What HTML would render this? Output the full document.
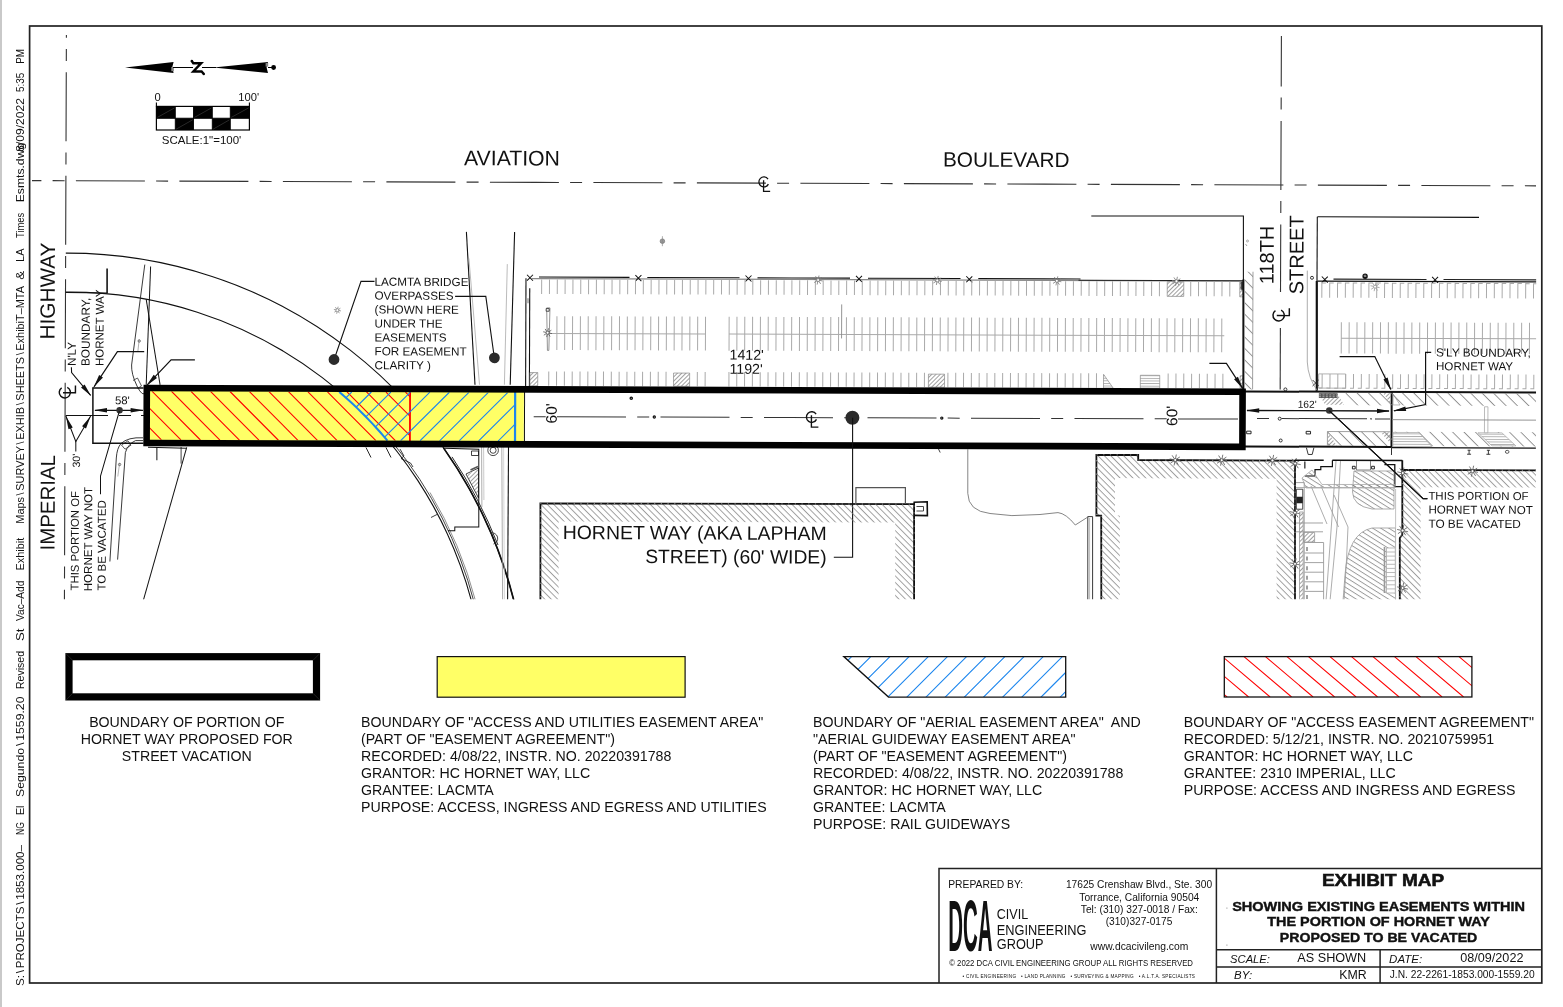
<!DOCTYPE html>
<html><head><meta charset="utf-8"><title>Exhibit Map</title>
<style>html,body{margin:0;padding:0;background:#fff}svg{display:block}text{font-family:"Liberation Sans",sans-serif;fill:#111}</style>
</head><body>
<svg width="1563" height="1007" viewBox="0 0 1563 1007">
<defs>

<clipPath id="mapclip"><rect x="30.5" y="27" width="1505.8" height="572.3"/></clipPath>
<pattern id="hb" width="4.57" height="4.57" patternUnits="userSpaceOnUse" patternTransform="rotate(45)"><line x1="0" y1="0.5" x2="4.57" y2="0.5" stroke="#7a7a7a" stroke-width="0.7"/></pattern>
<pattern id="hf" width="3" height="3" patternUnits="userSpaceOnUse" patternTransform="rotate(-45)"><line x1="0" y1="0.5" x2="3" y2="0.5" stroke="#777" stroke-width="0.7"/></pattern>
<pattern id="hw" width="8.06" height="8.06" patternUnits="userSpaceOnUse" patternTransform="rotate(45)"><line x1="0" y1="0.5" x2="8.06" y2="0.5" stroke="#7c7c7c" stroke-width="0.8"/></pattern>
<pattern id="hc" width="4.3" height="4.3" patternUnits="userSpaceOnUse" patternTransform="rotate(32)"><line x1="0" y1="0.5" x2="4.3" y2="0.5" stroke="#777" stroke-width="0.7"/></pattern>
<pattern id="hh" width="3" height="2.6" patternUnits="userSpaceOnUse"><line x1="0" y1="0.5" x2="3" y2="0.5" stroke="#888" stroke-width="0.7"/></pattern>

</defs>
<rect width="1563" height="1007" fill="#fff"/>
<rect x="0" y="0" width="2" height="1007" fill="#c9c9c9"/>
<g opacity="0.999"><g clip-path="url(#mapclip)"><g transform="rotate(0.2 146 416)">
<line x1="31.18" y1="181" x2="1535.19" y2="181" stroke="#333" stroke-width="1.1" stroke-dasharray="69 11.2 12 11.3" stroke-dashoffset="59.6"/>
<line x1="65.07" y1="35.28" x2="65.07" y2="600.28" stroke="#333" stroke-width="1.1" stroke-dasharray="69 11.2 12 11.3" stroke-dashoffset="66.2"/>
<line x1="1280.07" y1="32.04" x2="1280.07" y2="288.04" stroke="#333" stroke-width="1.1" stroke-dasharray="69 11.2 12 11.3" stroke-dashoffset="18.6"/>
<line x1="1280.07" y1="324.04" x2="1280.07" y2="385.54" stroke="#333" stroke-width="1.1"/>
<path d="M65.23,253.38A460.7,460.7 0 0 1 514.88,600.71" fill="none" stroke="#111" stroke-width="1.1"/>
<path d="M65.37,292.4A415.6,415.6 0 0 1 472.38,600.86" fill="none" stroke="#111" stroke-width="1.1"/>
<path d="M393.09,442.08A417.8,417.8 0 0 1 474.66,600.85" fill="none" stroke="#111" stroke-width="0.8"/>
<path d="M430.27,491.49A419.6,419.6 0 0 1 476.52,600.85" fill="none" stroke="#444" stroke-width="0.6"/>
<path d="M452.14,455.82A462.6,462.6 0 0 1 498.45,543.77" fill="none" stroke="#111" stroke-width="0.9"/>
<path d="M443.61,446.83A460.7,460.7 0 0 1 514.88,600.71" fill="none" stroke="#111" stroke-width="1.7"/>
<path d="M465.76,230.78L474.89,383.55" fill="none" stroke="#111" stroke-width="1.1" />
<path d="M513.96,230.61L510.09,383.43" fill="none" stroke="#111" stroke-width="1.1" />
<path d="M468.35,257.27L479.39,383.54" fill="none" stroke="#aaa" stroke-width="0.8" />
<path d="M506.77,262.84L504.29,383.45" fill="none" stroke="#aaa" stroke-width="0.8" />
<path d="M481.71,445.83L482.22,505.83" fill="none" stroke="#999" stroke-width="0.8" />
<path d="M483.71,445.82L484.19,498.82" fill="none" stroke="#bbb" stroke-width="0.8" />
<path d="M501.91,445.76L503.24,599.75" fill="none" stroke="#999" stroke-width="0.8" />
<path d="M503.71,445.75L505.04,599.75" fill="none" stroke="#ccc" stroke-width="0.8" />
<path d="M508.61,445.73L508.24,599.74" fill="none" stroke="#111" stroke-width="1.1" />
<path d="M444.61,447.16L478.91,448.04L479.19,525.84L455.19,525.92L455.2,529.72L448.4,529.75" fill="none" stroke="#111" stroke-width="1" />
<path d="M471.62,449.86L478.62,449.84L478.64,454.34L471.64,454.36Z" fill="none" stroke="#111" stroke-width="0.8" />
<path d="M466.2,472.88L478.68,466.84L478.78,496.84L466.2,472.88" fill="none" stroke="#111" stroke-width="0.8" />
<path d="M467.2,473.38L478.18,467.84L478.28,494.84Z" fill="url(#hf)"/>
<path d="M470.69,468.87L478.17,465.34" fill="none" stroke="#555" stroke-width="1.6" />
<circle cx="493.22" cy="449.09" r="5.3" fill="#fff" stroke="#333" stroke-width="0.9"/><circle cx="493.22" cy="449.09" r="3" fill="none" stroke="#333" stroke-width="0.9"/>
<path d="M490.93,531.79A5.5,5.5 0 0 1 493.93,542.79" fill="none" stroke="#333" stroke-width="0.9"/>
<path d="M366.11,446.73L371.14,456.71" fill="none" stroke="#111" stroke-width="0.9" />
<path d="M386.11,446.66L391.14,456.64" fill="none" stroke="#111" stroke-width="0.9" />
<path d="M400.11,448.11L404.14,455.1L401.15,457.61L410.66,462.08L413.18,466.07" fill="none" stroke="#111" stroke-width="0.8" />
<path d="M431.35,516.5L437.34,513.48" fill="none" stroke="#111" stroke-width="0.8" />
<path d="M106.59,268.64L106.67,293.54" fill="none" stroke="#111" stroke-width="1.6" />
<path d="M65.37,292.68L106.67,293.04" fill="none" stroke="#111" stroke-width="1" />
<path d="M150.08,266.58L146.09,384.8" fill="none" stroke="#111" stroke-width="1" />
<path d="M145.79,299.3L159.99,384.75" fill="none" stroke="#111" stroke-width="1" />
<path d="M144.27,264.61L131.42,365.05Q131.05,374.05 136.9,386.03T145.92,392" fill="none" stroke="#222" stroke-width="0.9"/>
<path d="M132.88,380.55L137.37,378.03L141.4,386.02L137.4,388.53" fill="none" stroke="#333" stroke-width="0.8" />
<path d="M138.93,339.52L137.58,352.03" fill="none" stroke="#888" stroke-width="0.7" />
<circle cx="138.94" cy="341.02" r="1.2" fill="none" stroke="#444" stroke-width="0.7"/>
<path d="M143.08,437.81Q128.07,437.06 121.1,443.59Q117.11,448.1 116.45,458.1L110.41,561.63" fill="none" stroke="#222" stroke-width="0.9"/>
<path d="M143.09,440.61L135.59,440.64Q128.1,444.06 125.53,452.57L118.1,559.7" fill="none" stroke="#222" stroke-width="0.9"/>
<path d="M121.6,445.09L128.09,440.86L131.1,445.25L125.12,449.27Z" fill="none" stroke="#333" stroke-width="0.8" />
<path d="M119.76,463.09L118.01,476.6" fill="none" stroke="#999" stroke-width="0.7" />
<circle cx="119.77" cy="464.59" r="1.2" fill="none" stroke="#444" stroke-width="0.7"/>
<path d="M186.81,447.16L143.94,600.51" fill="none" stroke="#111" stroke-width="1" />
<path d="M157.01,447.26L157.05,460.26" fill="none" stroke="#111" stroke-width="1" />
<path d="M181.21,446.88L181.27,463.48" fill="none" stroke="#111" stroke-width="0.8" />
<path d="M148.11,447.29L186.61,448.06" fill="none" stroke="#111" stroke-width="1" />
<line x1="525.5" y1="277" x2="525.5" y2="385" stroke="#111" stroke-width="1.1" />
<line x1="529.3" y1="287" x2="529.3" y2="385" stroke="#111" stroke-width="1.1" />
<line x1="527.6" y1="297" x2="527.6" y2="302" stroke="#999" stroke-width="1.4" />
<line x1="538.5" y1="275.7" x2="629" y2="275.7" stroke="#111" stroke-width="1.1" />
<line x1="646.8" y1="275.7" x2="739" y2="275.7" stroke="#111" stroke-width="1.1" />
<line x1="757" y1="275.7" x2="849.5" y2="275.7" stroke="#111" stroke-width="1.1" />
<line x1="867.5" y1="275.7" x2="960" y2="275.7" stroke="#111" stroke-width="1.1" />
<line x1="977.8" y1="275.7" x2="1080" y2="275.7" stroke="#111" stroke-width="1.1" />
<line x1="531" y1="277.2" x2="1243" y2="277.2" stroke="#888" stroke-width="1.3" />
<line x1="1078" y1="276.9" x2="1243" y2="276.9" stroke="#222" stroke-width="1.0" />
<path d="M526.5,273.4L532.5,279.4M532.5,273.4L526.5,279.4" stroke="#111" stroke-width="1" fill="none"/>
<path d="M634.9,273.4L640.9,279.4M640.9,273.4L634.9,279.4" stroke="#111" stroke-width="1" fill="none"/>
<path d="M745,273.4L751,279.4M751,273.4L745,279.4" stroke="#111" stroke-width="1" fill="none"/>
<path d="M855.5,273.4L861.5,279.4M861.5,273.4L855.5,279.4" stroke="#111" stroke-width="1" fill="none"/>
<path d="M965.8,273.4L971.8,279.4M971.8,273.4L965.8,279.4" stroke="#111" stroke-width="1" fill="none"/>
<path d="M541.2,278V292.6M549.02,278V292.6M556.84,278V292.6M564.66,278V292.6M572.48,278V292.6M580.3,278V292.6M588.12,278V292.6M595.94,278V292.6M603.76,278V292.6M611.58,278V292.6M619.4,278V292.6M627.22,278V292.6M635.04,278V292.6M642.86,278V292.6M650.68,278V292.6M658.5,278V292.6M666.32,278V292.6M674.14,278V292.6M681.96,278V292.6M689.78,278V292.6M697.6,278V292.6M705.42,278V292.6M713.24,278V292.6M721.06,278V292.6M728.88,278V292.6M736.7,278V292.6M744.52,278V292.6M752.34,278V292.6M760.16,278V292.6M767.98,278V292.6M775.8,278V292.6M783.62,278V292.6M791.44,278V292.6M799.26,278V292.6M807.08,278V292.6M814.9,278V292.6M822.72,278V292.6M830.54,278V292.6M838.36,278V292.6M846.18,278V292.6M854,278V292.6M861.82,278V292.6M869.64,278V292.6M877.46,278V292.6M885.28,278V292.6M893.1,278V292.6M900.92,278V292.6M908.74,278V292.6M916.56,278V292.6M924.38,278V292.6M932.2,278V292.6M940.02,278V292.6M947.84,278V292.6M955.66,278V292.6M963.48,278V292.6M971.3,278V292.6M979.12,278V292.6M986.94,278V292.6M994.76,278V292.6M1002.58,278V292.6M1010.4,278V292.6M1018.22,278V292.6M1026.04,278V292.6M1033.86,278V292.6M1041.68,278V292.6M1049.5,278V292.6M1057.32,278V292.6M1065.14,278V292.6M1072.96,278V292.6M1080.78,278V292.6M1088.6,278V292.6M1096.42,278V292.6M1104.24,278V292.6M1112.06,278V292.6M1119.88,278V292.6M1127.7,278V292.6M1135.52,278V292.6M1143.34,278V292.6M1151.16,278V292.6M1158.98,278V292.6M1190.26,278V292.6M1198.08,278V292.6M1205.9,278V292.6M1213.72,278V292.6M1221.54,278V292.6M1229.36,278V292.6" fill="none" stroke="#a9a9a9" stroke-width="1.0"/>
<path d="M556.6,314.7V348.6M564.42,314.7V348.6M572.24,314.7V348.6M580.06,314.7V348.6M587.88,314.7V348.6M595.7,314.7V348.6M603.52,314.7V348.6M611.34,314.7V348.6M619.16,314.7V348.6M626.98,314.7V348.6M634.8,314.7V348.6M642.62,314.7V348.6M650.44,314.7V348.6M658.26,314.7V348.6M666.08,314.7V348.6M673.9,314.7V348.6M681.72,314.7V348.6M689.54,314.7V348.6M697.36,314.7V348.6M705.18,314.7V348.6" fill="none" stroke="#a9a9a9" stroke-width="1.0"/>
<path d="M728.8,314.7V348.6M736.62,314.7V348.6M744.44,314.7V348.6M752.26,314.7V348.6M760.08,314.7V348.6M767.9,314.7V348.6M775.72,314.7V348.6M783.54,314.7V348.6M791.36,314.7V348.6M799.18,314.7V348.6M807,314.7V348.6M814.82,314.7V348.6M822.64,314.7V348.6M830.46,314.7V348.6M838.28,314.7V348.6M846.1,314.7V348.6M853.92,314.7V348.6M861.74,314.7V348.6M869.56,314.7V348.6M877.38,314.7V348.6M885.2,314.7V348.6M893.02,314.7V348.6M900.84,314.7V348.6M908.66,314.7V348.6M916.48,314.7V348.6M924.3,314.7V348.6M932.12,314.7V348.6M939.94,314.7V348.6M947.76,314.7V348.6M955.58,314.7V348.6M963.4,314.7V348.6M971.22,314.7V348.6M979.04,314.7V348.6M986.86,314.7V348.6M994.68,314.7V348.6M1002.5,314.7V348.6M1010.32,314.7V348.6M1018.14,314.7V348.6M1025.96,314.7V348.6M1033.78,314.7V348.6M1041.6,314.7V348.6M1049.42,314.7V348.6M1057.24,314.7V348.6M1065.06,314.7V348.6M1072.88,314.7V348.6M1080.7,314.7V348.6M1088.52,314.7V348.6M1096.34,314.7V348.6M1104.16,314.7V348.6M1111.98,314.7V348.6M1119.8,314.7V348.6M1127.62,314.7V348.6M1135.44,314.7V348.6M1143.26,314.7V348.6M1151.08,314.7V348.6M1158.9,314.7V348.6M1166.72,314.7V348.6M1174.54,314.7V348.6M1182.36,314.7V348.6M1190.18,314.7V348.6M1198,314.7V348.6M1205.82,314.7V348.6M1213.64,314.7V348.6M1221.46,314.7V348.6" fill="none" stroke="#a9a9a9" stroke-width="1.0"/>
<line x1="549" y1="332" x2="705.5" y2="332" stroke="#a9a9a9" stroke-width="1.0" />
<line x1="728.8" y1="332" x2="1224" y2="332" stroke="#a9a9a9" stroke-width="1.0" />
<path d="M548.6,370V384.4M556.42,370V384.4M564.24,370V384.4M572.06,370V384.4M579.88,370V384.4M587.7,370V384.4M595.52,370V384.4M603.34,370V384.4M611.16,370V384.4M618.98,370V384.4M626.8,370V384.4M634.62,370V384.4M642.44,370V384.4M650.26,370V384.4M658.08,370V384.4M665.9,370V384.4M697.18,370V384.4M705,370V384.4" fill="none" stroke="#a9a9a9" stroke-width="1.0"/>
<path d="M728.8,370V384.4M736.62,370V384.4M744.44,370V384.4M752.26,370V384.4M760.08,370V384.4M767.9,370V384.4M775.72,370V384.4M783.54,370V384.4M791.36,370V384.4M799.18,370V384.4M807,370V384.4M814.82,370V384.4M822.64,370V384.4M830.46,370V384.4M838.28,370V384.4M846.1,370V384.4M853.92,370V384.4M861.74,370V384.4M869.56,370V384.4M877.38,370V384.4M885.2,370V384.4M893.02,370V384.4M900.84,370V384.4M908.66,370V384.4M916.48,370V384.4M924.3,370V384.4M947.76,370V384.4M955.58,370V384.4M963.4,370V384.4M971.22,370V384.4M979.04,370V384.4M986.86,370V384.4M994.68,370V384.4M1002.5,370V384.4M1010.32,370V384.4M1018.14,370V384.4M1025.96,370V384.4M1033.78,370V384.4M1041.6,370V384.4M1049.42,370V384.4M1057.24,370V384.4M1065.06,370V384.4M1072.88,370V384.4M1080.7,370V384.4M1088.52,370V384.4M1096.34,370V384.4" fill="none" stroke="#a9a9a9" stroke-width="1.0"/>
<path d="M1168,370V384.4M1175.82,370V384.4M1183.64,370V384.4M1191.46,370V384.4M1199.28,370V384.4M1207.1,370V384.4M1214.92,370V384.4M1222.74,370V384.4" fill="none" stroke="#a9a9a9" stroke-width="1.0"/>
<line x1="841.3" y1="302" x2="841.3" y2="336" stroke="#888" stroke-width="0.9" />
<rect x="529.8" y="371.2" width="7.8" height="13.2" fill="url(#hf)" stroke="#888" stroke-width="0.7"/>
<rect x="673.4" y="371.2" width="16.1" height="13.2" fill="url(#hf)" stroke="#888" stroke-width="0.7"/>
<rect x="928.3" y="371.4" width="16.1" height="13" fill="url(#hf)" stroke="#888" stroke-width="0.7"/>
<rect x="1166.8" y="278" width="16.5" height="14.8" fill="url(#hf)" stroke="#888" stroke-width="0.7"/>
<rect x="1140.2" y="371.8" width="19.4" height="12.8" fill="url(#hh)" stroke="#888" stroke-width="0.7"/>
<path d="M1103.4,371 L1103.4,384.6 L1113,384.6Z" fill="url(#hh)" stroke="#888" stroke-width="0.7"/>
<rect x="1239.3" y="278" width="3.7" height="15" fill="url(#hf)" stroke="#888" stroke-width="0.7"/>
<rect x="1240.2" y="278" width="2.6" height="8" fill="#444"/>
<rect x="1240" y="372" width="3" height="12.5" fill="url(#hf)" stroke="#888" stroke-width="0.7"/>
<path d="M546.3,306.5 L549.6,306.5 L548.6,349 L547.2,349 Z" fill="#fff" stroke="#666" stroke-width="0.7"/><rect x="545.8" y="307.2" width="3" height="2.6" fill="#fff" stroke="#222" stroke-width="0.8"/>
<path d="M542.89,330.41L551.71,332.19M544.81,327.55L549.79,335.05M548.19,326.89L546.41,335.71M551.05,328.81L543.55,333.79" stroke="#555" stroke-width="0.8" fill="none"/><circle cx="547.3" cy="331.3" r="1.5" fill="#fff" stroke="#555" stroke-width="0.8"/>
<path d="M813.09,276.79L822.11,278.61M815.06,273.87L820.14,281.53M818.51,273.19L816.69,282.21M821.43,275.16L813.77,280.24" stroke="#777" stroke-width="0.8" fill="none"/><circle cx="817.6" cy="277.7" r="1.5" fill="#fff" stroke="#777" stroke-width="0.8"/>
<path d="M932.29,276.79L941.31,278.61M934.26,273.87L939.34,281.53M937.71,273.19L935.89,282.21M940.63,275.16L932.97,280.24" stroke="#777" stroke-width="0.8" fill="none"/><circle cx="936.8" cy="277.7" r="1.5" fill="#fff" stroke="#777" stroke-width="0.8"/>
<path d="M1051.89,276.79L1060.91,278.61M1053.86,273.87L1058.94,281.53M1057.31,273.19L1055.49,282.21M1060.23,275.16L1052.57,280.24" stroke="#777" stroke-width="0.8" fill="none"/><circle cx="1056.4" cy="277.7" r="1.5" fill="#fff" stroke="#777" stroke-width="0.8"/>
<path d="M1171.49,276.79L1180.51,278.61M1173.46,273.87L1178.54,281.53M1176.91,273.19L1175.09,282.21M1179.83,275.16L1172.17,280.24" stroke="#777" stroke-width="0.8" fill="none"/><circle cx="1176" cy="277.7" r="1.5" fill="#fff" stroke="#777" stroke-width="0.8"/>
<path d="M333.5,308.82L340.56,310.25M335.04,306.53L339.02,312.53M337.74,306L336.31,313.06M340.03,307.54L334.03,311.52" stroke="#888" stroke-width="0.8" fill="none"/><circle cx="337.03" cy="309.53" r="1.5" fill="#fff" stroke="#888" stroke-width="0.8"/>
<circle cx="661.79" cy="239.4" r="2.3" fill="#999" stroke="#666" stroke-width="0.6"/><line x1="661.79" y1="234.4" x2="661.79" y2="244.4" stroke="#888" stroke-width="0.7"/>
<path d="M1090.6,212.7L1242.7,212.17L1242.92,276.17" fill="none" stroke="#111" stroke-width="1.1" />
<path d="M1242.92,275.67L1243.3,386.57" fill="none" stroke="#111" stroke-width="2" />
<path d="M1316.8,212.71L1478.3,212.75" fill="none" stroke="#111" stroke-width="1.1" />
<path d="M1316.6,212.71L1316.52,276.91" fill="none" stroke="#111" stroke-width="1.1" />
<path d="M1316.32,276.91L1316.71,387.51" fill="none" stroke="#111" stroke-width="2.2" />
<rect x="1244.29" y="267.87" width="8.2" height="117.67" fill="url(#hw)"/>
<line x1="1252.49" y1="267.87" x2="1252.49" y2="385.54" stroke="#888" stroke-width="0.8" />
<path d="M1306.79,266.55L1307.1,357.95Q1307.86,373.94 1317.41,386.91" fill="none" stroke="#999" stroke-width="0.8"/>
<circle cx="1311.51" cy="273.73" r="1.5" fill="#fff" stroke="#222" stroke-width="0.9"/>
<circle cx="1285.3" cy="385.42" r="1.5" fill="#fff" stroke="#222" stroke-width="0.9"/>
<circle cx="1279.7" cy="414.74" r="1.5" fill="#fff" stroke="#222" stroke-width="0.9"/>
<circle cx="1280.78" cy="436.54" r="1.5" fill="#fff" stroke="#222" stroke-width="0.9"/>
<circle cx="1246.88" cy="237.16" r="1" fill="none" stroke="#777" stroke-width="0.6"/>
<path d="M1244.89,240.16L1246.4,242.16" fill="none" stroke="#777" stroke-width="0.7" />
<line x1="1317" y1="277" x2="1536" y2="277" stroke="#111" stroke-width="1.4" />
<line x1="1333" y1="275" x2="1426" y2="275" stroke="#222" stroke-width="1.1" />
<line x1="1443" y1="275" x2="1536" y2="275" stroke="#222" stroke-width="1.1" />
<path d="M1321.3,272.4L1327.3,278.4M1327.3,272.4L1321.3,278.4" stroke="#111" stroke-width="1" fill="none"/>
<path d="M1431.6,272.4L1437.6,278.4M1437.6,272.4L1431.6,278.4" stroke="#111" stroke-width="1" fill="none"/>
<path d="M1325.4,278.8H1321.4V293.6M1333.24,278.8H1329.24V293.6M1341.08,278.8H1337.08V293.6M1348.92,278.8H1344.92V293.6M1356.76,278.8H1352.76V293.6M1364.6,278.8H1360.6V293.6M1372.44,278.8H1368.44V293.6M1380.28,278.8H1376.28V293.6M1388.12,278.8H1384.12V293.6M1395.96,278.8H1391.96V293.6M1403.8,278.8H1399.8V293.6M1411.64,278.8H1407.64V293.6M1419.48,278.8H1415.48V293.6M1427.32,278.8H1423.32V293.6M1435.16,278.8H1431.16V293.6M1443,278.8H1439V293.6M1450.84,278.8H1446.84V293.6M1458.68,278.8H1454.68V293.6M1466.52,278.8H1462.52V293.6M1474.36,278.8H1470.36V293.6M1482.2,278.8H1478.2V293.6M1490.04,278.8H1486.04V293.6M1497.88,278.8H1493.88V293.6M1505.72,278.8H1501.72V293.6M1513.56,278.8H1509.56V293.6M1521.4,278.8H1517.4V293.6M1529.24,278.8H1525.24V293.6M1537.08,278.8H1533.08V293.6" fill="none" stroke="#a9a9a9" stroke-width="1"/>
<path d="M1341,318V349.3M1348.84,318V349.3M1356.68,318V349.3M1364.52,318V349.3M1372.36,318V349.3M1380.2,318V349.3M1388.04,318V349.3M1395.88,318V349.3M1403.72,318V349.3M1411.56,318V349.3M1419.4,318V349.3M1427.24,318V349.3M1435.08,318V349.3M1442.92,318V349.3M1450.76,318V349.3M1458.6,318V349.3M1466.44,318V349.3M1474.28,318V349.3M1482.12,318V349.3M1489.96,318V349.3M1497.8,318V349.3M1505.64,318V349.3M1513.48,318V349.3M1521.32,318V349.3M1529.16,318V349.3" fill="none" stroke="#a9a9a9" stroke-width="1.0"/>
<line x1="1341" y1="334" x2="1536" y2="334" stroke="#a9a9a9" stroke-width="1.0" />
<path d="M1322,369.8V384H1318.5M1329.84,369.8V384H1326.34M1337.68,369.8V384H1334.18M1345.52,369.8V384H1342.02M1353.36,369.8V384H1349.86M1361.2,369.8V384H1357.7M1369.04,369.8V384H1365.54M1376.88,369.8V384H1373.38M1384.72,369.8V384H1381.22M1392.56,369.8V384H1389.06M1400.4,369.8V384H1396.9M1408.24,369.8V384H1404.74M1416.08,369.8V384H1412.58M1423.92,369.8V384H1420.42M1431.76,369.8V384H1428.26M1439.6,369.8V384H1436.1M1447.44,369.8V384H1443.94M1455.28,369.8V384H1451.78M1463.12,369.8V384H1459.62M1470.96,369.8V384H1467.46M1478.8,369.8V384H1475.3M1486.64,369.8V384H1483.14M1494.48,369.8V384H1490.98M1502.32,369.8V384H1498.82M1510.16,369.8V384H1506.66M1518,369.8V384H1514.5M1525.84,369.8V384H1522.34M1533.68,369.8V384H1530.18" fill="none" stroke="#a9a9a9" stroke-width="1"/>
<rect x="1318.5" y="369.8" width="27" height="14.2" fill="none" stroke="#a9a9a9" stroke-width="0.9"/>
<path d="M1370.09,281.49L1379.11,283.31M1372.06,278.57L1377.14,286.23M1375.51,277.89L1373.69,286.91M1378.43,279.86L1370.77,284.94" stroke="#999" stroke-width="0.8" fill="none"/><circle cx="1374.6" cy="282.4" r="1.5" fill="#fff" stroke="#999" stroke-width="0.8"/>
<circle cx="1364.6" cy="271.95" r="2.7" fill="#111"/><path d="M1363.4,272.15h2.2a1.1,1.1 0 0 0 -2.2,-0.4" stroke="#ddd" stroke-width="0.6" fill="none"/>
<path d="M1312.48,375.92l6,6m0,-6l-6,6" stroke="#222" stroke-width="0.9" fill="none"/>
<line x1="1245" y1="387.6" x2="1536" y2="387.6" stroke="#111" stroke-width="2.0" />
<line x1="1245" y1="442.6" x2="1391.8" y2="442.6" stroke="#111" stroke-width="2.0" />
<line x1="1391.8" y1="443.2" x2="1536" y2="443.2" stroke="#111" stroke-width="1.3" />
<line x1="1391.6" y1="387.6" x2="1391.6" y2="443.6" stroke="#111" stroke-width="2.0" />
<line x1="1391.6" y1="442.6" x2="1391.6" y2="450.6" stroke="#333" stroke-width="1.0" />
<path d="M1345,388.6H1536V401.1H1351Z" fill="url(#hw)"/>
<path d="M1327.5,427.4H1536V441.6H1327.5Z" fill="url(#hw)"/>
<line x1="1327.5" y1="427.4" x2="1391" y2="427.4" stroke="#888" stroke-width="0.8" />
<line x1="1327.5" y1="427.4" x2="1327.5" y2="441.6" stroke="#888" stroke-width="0.8" />
<path d="M1328,428.1L1337,441.6L1328,441.6Z" fill="url(#hf)"/>
<path d="M1318.5,389.1H1337L1344,400.6H1325Z" fill="url(#hf)"/>
<rect x="1318.8" y="389.2" width="18.6" height="4.6" fill="#555"/>
<path d="M1319,390.8H1337M1319,392.6H1337" stroke="#ddd" stroke-width="0.6" stroke-dasharray="2 1.4"/>
<path d="M1383,388.8H1390.5V399.6Z" fill="url(#hf)"/><path d="M1393,389.6L1400,400.6H1393Z" fill="none" stroke="#999" stroke-width="0.7"/>
<path d="M1381,428.1H1391V439.6Z" fill="url(#hf)"/>
<path d="M1393,428.1H1419L1432,442.1H1393Z" fill="#fff"/><path d="M1393,428.1H1419L1432,442.1H1393Z" fill="url(#hh)" stroke="#999" stroke-width="0.6"/>
<path d="M1478,428.1H1502L1516,441.1H1492Z" fill="#fff"/><path d="M1478,428.1H1502L1516,441.1H1492Z" fill="url(#hh)" stroke="#999" stroke-width="0.6"/>
<rect x="1484.5" y="402.1" width="3.4" height="26" fill="#fff" stroke="#aaa" stroke-width="0.8"/>
<line x1="1392" y1="415.3" x2="1536" y2="415.3" stroke="#888" stroke-width="0.9" />
<line x1="1257" y1="414.6" x2="1269" y2="414.6" stroke="#333" stroke-width="1.0" />
<line x1="1281.5" y1="414.6" x2="1367" y2="414.6" stroke="#333" stroke-width="1.0" />
<line x1="1375" y1="414.6" x2="1390" y2="414.6" stroke="#333" stroke-width="1.0" />
<circle cx="1371" cy="414.6" r="0.8" fill="#333"/>
<rect x="1246.7" y="427.3" width="4.4" height="2.6" fill="#fff" stroke="#111" stroke-width="0.9"/>
<rect x="1306.2" y="427.3" width="4.4" height="2.6" fill="#fff" stroke="#111" stroke-width="0.9"/>
<path d="M1306.5,443.6L1308.3,450.4H1312.3L1314,443.6" fill="none" stroke="#222" stroke-width="0.9"/>
<path d="M1467.2,449.6h4m-2,0v-4m-1.5,0h3" stroke="#222" stroke-width="0.9" fill="none"/>
<path d="M1486.5,449.6h4m-2,0v-4m-1.5,0h3" stroke="#222" stroke-width="0.9" fill="none"/>
<ellipse cx="1507.3" cy="447.1" rx="1.8" ry="1.5" fill="#fff" stroke="#333" stroke-width="0.8"/>
<path d="M92.8,388.09L143.4,387.91" fill="none" stroke="#111" stroke-width="1.5" />
<path d="M93,443.39L143.59,443.21" fill="none" stroke="#111" stroke-width="1.5" />
<path d="M92.8,387.39L93,444.09" fill="none" stroke="#111" stroke-width="1.5" />
<path d="M65.8,415.88L108,415.73" fill="none" stroke="#111" stroke-width="1" />
<path d="M119,415.69L131,415.65" fill="none" stroke="#111" stroke-width="1" />
<path d="M141,415.62L144,415.61" fill="none" stroke="#111" stroke-width="1" />
<rect x="146.7" y="388.0" width="377.1" height="55.0" fill="#ffff66"/>
<line x1="524.5" y1="388" x2="524.5" y2="443" stroke="#111" stroke-width="1.0" />
<clipPath id="cr"><rect x="149" y="391.2" width="261" height="48.60000000000002"/></clipPath>
<path clip-path="url(#cr)" d="M93.4,391.2l48.6,48.6M112.9,391.2l48.6,48.6M132.4,391.2l48.6,48.6M151.9,391.2l48.6,48.6M171.4,391.2l48.6,48.6M190.9,391.2l48.6,48.6M210.4,391.2l48.6,48.6M229.9,391.2l48.6,48.6M249.4,391.2l48.6,48.6M268.9,391.2l48.6,48.6M288.4,391.2l48.6,48.6M307.9,391.2l48.6,48.6M327.4,391.2l48.6,48.6M346.9,391.2l48.6,48.6M366.4,391.2l48.6,48.6M385.9,391.2l48.6,48.6M405.4,391.2l48.6,48.6M424.9,391.2l48.6,48.6" stroke="#ff0000" stroke-width="1.1" fill="none"/>
<line x1="410" y1="390.2" x2="410" y2="440.8" stroke="#f00" stroke-width="1.8" />
<clipPath id="cb"><path d="M339.15,391.2L343.84,395.25L348.39,399.3L352.81,403.35L357.1,407.4L361.28,411.45L365.34,415.5L369.29,419.55L373.13,423.6L376.88,427.65L380.52,431.7L384.07,435.75L387.53,439.8L515.1,439.8L515.1,391.2Z"/></clipPath>
<path clip-path="url(#cb)" d="M283.7,439.8l48.6,-48.6M303.2,439.8l48.6,-48.6M322.7,439.8l48.6,-48.6M342.2,439.8l48.6,-48.6M361.7,439.8l48.6,-48.6M381.2,439.8l48.6,-48.6M400.7,439.8l48.6,-48.6M420.2,439.8l48.6,-48.6M439.7,439.8l48.6,-48.6M459.2,439.8l48.6,-48.6M478.7,439.8l48.6,-48.6M498.2,439.8l48.6,-48.6M517.7,439.8l48.6,-48.6" stroke="#1c86ee" stroke-width="1.1" fill="none"/>
<path d="M339.15,391.2L343.84,395.25L348.39,399.3L352.81,403.35L357.1,407.4L361.28,411.45L365.34,415.5L369.29,419.55L373.13,423.6L376.88,427.65L380.52,431.7L384.07,435.75L387.53,439.8" stroke="#1c86ee" stroke-width="2" fill="none"/>
<line x1="515.1" y1="390.2" x2="515.1" y2="440.8" stroke="#1c86ee" stroke-width="2.2" />
<line x1="533" y1="415.3" x2="1238" y2="415.3" stroke="#333" stroke-width="1" stroke-dasharray="69 11.2 12 11.3" stroke-dashoffset="79.5"/>
<circle cx="654.3" cy="415.3" r="1.7" fill="#111"/><circle cx="654.3" cy="415.3" r="0.5" fill="#bbb"/>
<circle cx="941.8" cy="415.3" r="1.7" fill="#111"/><circle cx="941.8" cy="415.3" r="0.5" fill="#bbb"/>
<circle cx="631.2" cy="396.6" r="1.8" fill="#111"/><circle cx="631.2" cy="396.6" r="0.5" fill="#bbb"/>
<rect x="146.7" y="388.0" width="1095.8" height="55.0" fill="none" stroke="#000" stroke-width="6.6"/>
<g transform="translate(811.75,414.78) rotate(0) scale(1.06)"><path d="M4.1,-2.9A5,5 0 1 0 4.5,2.1" fill="none" stroke="#111" stroke-width="1.3"/><path d="M-0.3,-1.7V9.4H6.3" fill="none" stroke="#111" stroke-width="1.3"/></g>
<g transform="translate(763.08,179.84) rotate(0) scale(1.0)"><path d="M4.1,-2.9A5,5 0 1 0 4.5,2.1" fill="none" stroke="#111" stroke-width="1.3"/><path d="M-0.3,-1.7V9.4H6.3" fill="none" stroke="#111" stroke-width="1.3"/></g>
<g transform="translate(1278.34,311.3) rotate(-90) scale(1.13)"><path d="M4.1,-2.9A5,5 0 1 0 4.5,2.1" fill="none" stroke="#111" stroke-width="1.3"/><path d="M-0.3,-1.7V9.4H6.3" fill="none" stroke="#111" stroke-width="1.3"/></g>
<g transform="translate(64.82,392.68) rotate(-90) scale(1.12)"><path d="M4.1,-2.9A5,5 0 1 0 4.5,2.1" fill="none" stroke="#111" stroke-width="1.3"/><path d="M-0.3,-1.7V9.4H6.3" fill="none" stroke="#111" stroke-width="1.3"/></g>
<circle cx="852.4" cy="415.23" r="7" fill="#2b2b2b"/>
<path d="M852.6,415.23L853.09,554.73L834.29,554.8" fill="none" stroke="#111" stroke-width="1.1" />
<path d="M94.98,410.48L142.98,410.31" fill="none" stroke="#111" stroke-width="1.2" />
<path d="M93.98,410.48L106.97,408.14L106.99,412.74Z" fill="#111"/>
<path d="M143.58,410.31L130.59,412.65L130.57,408.05Z" fill="#111"/>
<circle cx="119.58" cy="410.39" r="3.2" fill="#333"/>
<path d="M119.38,411.09L100.71,476.16L100.77,494.46" fill="none" stroke="#111" stroke-width="1" />
<path d="M65.8,416.08L75.89,441.74L90.8,415.99" fill="none" stroke="#111" stroke-width="1" />
<path d="M65.9,416.48L72.82,427.72L68.54,429.41Z" fill="#111"/>
<path d="M90.6,416.39L86.07,428.79L82.09,426.48Z" fill="#111"/>
<path d="M75.89,441.24L75.92,451.74" fill="none" stroke="#111" stroke-width="1" />
<path d="M143.98,351.61L117.18,351.7L93.9,386.98" fill="none" stroke="#111" stroke-width="1.2" />
<path d="M93.7,387.18L98.99,375.09L102.82,377.64Z" fill="#111"/>
<path d="M194.7,359.73L170.9,359.81L146.49,385.6" fill="none" stroke="#111" stroke-width="1.2" />
<path d="M146.29,385.8L153.55,374.77L156.89,377.93Z" fill="#111"/>
<path d="M71.23,367.46L71.45,372.76L90.53,395.59" fill="none" stroke="#111" stroke-width="1.1" />
<path d="M91.03,396.19L80.95,387.66L84.49,384.72Z" fill="#111"/>
<path d="M1209.21,359.69L1226.21,359.63L1242.7,384.77" fill="none" stroke="#111" stroke-width="1.2" />
<path d="M1242.9,385.17L1233.92,375.49L1237.79,373Z" fill="#111"/>
<path d="M1339.39,352.43L1374.59,352.31L1390.8,385.25" fill="none" stroke="#111" stroke-width="1.2" />
<path d="M1390.9,385.85L1383.3,375.06L1387.47,373.11Z" fill="#111"/>
<path d="M1430.97,347.91L1425.37,347.93L1425.55,400.13L1393.97,406.54" fill="none" stroke="#111" stroke-width="1.2" />
<path d="M1392.98,406.75L1405.3,402.01L1406.18,406.52Z" fill="#111"/>
<path d="M1246.97,406.66L1388.97,406.66" fill="none" stroke="#111" stroke-width="1.3" />
<path d="M1246.17,406.66L1259.17,404.31L1259.18,408.91Z" fill="#111"/>
<path d="M1389.97,406.66L1376.98,409L1376.97,404.4Z" fill="#111"/>
<circle cx="1329.27" cy="406.37" r="3.3" fill="#333"/>
<path d="M1329.47,406.67L1423.38,494.14L1427.68,494.13" fill="none" stroke="#111" stroke-width="1.1" />
<path d="M374.03,280.6L360.53,280.65L334.1,358.34" fill="none" stroke="#111" stroke-width="1.1" />
<path d="M454.68,295.32L485.38,295.21L494.09,356.28" fill="none" stroke="#111" stroke-width="1.1" />
<circle cx="333.8" cy="358.84" r="5.4" fill="#2b2b2b"/>
<circle cx="494.19" cy="356.58" r="5.4" fill="#2b2b2b"/>
<text x="463.12" y="164.09" font-size="21.24" >AVIATION</text>
<text x="942.12" y="163.82" font-size="20.76" >BOULEVARD</text>
<text x="54.33" y="339.82" font-size="20.79" transform="rotate(-90 54.33 339.82)" >HIGHWAY</text>
<text x="55.07" y="550.82" font-size="20.46" transform="rotate(-90 55.07 550.82)" >IMPERIAL</text>
<text x="1273.13" y="280.26" font-size="19.98" transform="rotate(-90 1273.13 280.26)" >118TH</text>
<text x="1302.87" y="290.26" font-size="20.03" transform="rotate(-90 1302.87 290.26)" >STREET</text>
<text x="374.04" y="284.9" font-size="11.7" >LACMTA BRIDGE</text>
<text x="374.09" y="298.82" font-size="11.7" >OVERPASSES</text>
<text x="374.14" y="312.74" font-size="11.7" >(SHOWN HERE</text>
<text x="374.19" y="326.66" font-size="11.7" >UNDER THE</text>
<text x="374.24" y="340.58" font-size="11.7" >EASEMENTS</text>
<text x="374.29" y="354.5" font-size="11.7" >FOR EASEMENT</text>
<text x="374.34" y="368.42" font-size="11.7" >CLARITY )</text>
<text x="729.3" y="357.56" font-size="14.2" >1412'</text>
<text x="729.35" y="371.76" font-size="14.2" >1192'</text>
<text x="827.03" y="537.62" font-size="19.44" text-anchor="end" >HORNET WAY (AKA LAPHAM</text>
<text x="827.11" y="561.32" font-size="19.28" text-anchor="end" >STREET) (60' WIDE)</text>
<text x="556.72" y="421.97" font-size="15.4" transform="rotate(-90 556.72 421.97)" >60'</text>
<text x="1177.23" y="422.3" font-size="15.4" transform="rotate(-90 1177.23 422.3)" >60'</text>
<text x="114.86" y="404.31" font-size="11.4" >58'</text>
<text x="1297.66" y="403.78" font-size="10.2" >162'</text>
<text x="80.08" y="467.83" font-size="10.6" transform="rotate(-90 80.08 467.83)" >30'</text>
<text x="75.53" y="366.25" font-size="11.64" transform="rotate(-90 75.53 366.25)" >N'LY</text>
<text x="89.43" y="366.2" font-size="11.81" transform="rotate(-90 89.43 366.2)" >BOUNDARY,</text>
<text x="103.33" y="366.15" font-size="11.51" transform="rotate(-90 103.33 366.15)" >HORNET WAY</text>
<text x="79.21" y="590.73" font-size="11.36" transform="rotate(-90 79.21 590.73)" >THIS PORTION OF</text>
<text x="92.61" y="591.49" font-size="11.59" transform="rotate(-90 92.61 591.49)" >HORNET WAY NOT</text>
<text x="106.21" y="590.64" font-size="11.53" transform="rotate(-90 106.21 590.64)" >TO BE VACATED</text>
<text x="1435.78" y="352" font-size="11.78" >S'LY BOUNDARY,</text>
<text x="1435.83" y="365.6" font-size="11.6" >HORNET WAY</text>
<text x="1428.68" y="495.22" font-size="11.45" >THIS PORTION OF</text>
<text x="1428.73" y="509.12" font-size="11.59" >HORNET WAY NOT</text>
<text x="1428.78" y="523.22" font-size="11.8" >TO BE VACATED</text>
<path d="M541.05,602.62L540.7,501.92L914.4,501.52L914.75,601.32L895.85,601.38L895.57,519.78L558.97,520.16L559.25,602.56Z" fill="url(#hb)"/>
<path d="M541.05,602.62L540.7,501.92L914.4,501.52L914.75,601.32" fill="none" stroke="#111" stroke-width="1.8"/>
<path d="M541.05,602.62L540.7,501.92L914.4,501.52L914.75,601.32" fill="none" stroke="#fff" stroke-width="0.5" stroke-dasharray="1.2 5.5"/>
<path d="M856.2,501.12L856.15,485.12L905.65,485.05L905.7,501.15" fill="none" stroke="#555" stroke-width="1.2" />
<path d="M914.4,501.52L914.5,499.62L927.49,499.07L927.74,512.87L914.54,512.72" fill="none" stroke="#111" stroke-width="1.6" />
<path d="M916.81,503.81L923.81,503.79L923.83,508.29L916.83,508.31" fill="none" stroke="#333" stroke-width="0.9" />
<path d="M1101.95,600.66L1101.54,512.27L1096.74,512.28L1096.53,451.48L1138.33,451.54L1138.35,456.54L1295.15,456.59L1295.65,599.99L1277.25,600.05L1276.81,474.85L1138.41,474.74L1138.41,474.74L1115.21,474.62L1115.34,512.22L1120.14,512.2L1120.45,600.6Z" fill="url(#hb)"/>
<path d="M1101.95,600.66L1101.54,512.27L1096.74,512.28L1096.53,451.48L1138.33,451.54L1138.35,456.54L1295.15,456.59L1295.65,599.99" fill="none" stroke="#111" stroke-width="1.8"/>
<path d="M1101.95,600.66L1101.54,512.27L1096.74,512.28L1096.53,451.48L1138.33,451.54L1138.35,456.54L1295.15,456.59L1295.65,599.99" fill="none" stroke="#fff" stroke-width="0.5" stroke-dasharray="1.2 5.5"/>
<path d="M1088.45,600.71L1088.15,513.31L1092.95,513.3L1093.25,600.69" fill="none" stroke="#222" stroke-width="0.9" />
<path d="M1090.25,600.71L1089.95,514.71" fill="none" stroke="#aaa" stroke-width="0.8" />
<path d="M967.91,446.33L968.06,490.43Q968.33,508.13 990.34,510.55L1012.24,512.58L1040.34,511.38L1058.33,509.42Q1066.33,510.29 1075.67,521.76L1088.55,513.51" fill="none" stroke="#666" stroke-width="0.8"/>
<path d="M938.61,446.23L940.32,449.73" fill="none" stroke="#111" stroke-width="0.8" />
<path d="M1400.45,599.62L1400.22,533.62L1402.71,530.41L1402.48,465.41L1536.18,465.55L1536.24,482.75L1420.84,482.75L1421.25,599.55Z" fill="url(#hb)"/>
<path d="M1400.45,599.62L1400.22,533.62L1402.71,530.41L1402.48,465.41L1536.18,465.55" fill="none" stroke="#111" stroke-width="1.8"/>
<path d="M1400.45,599.62L1400.22,533.62L1402.71,530.41L1402.48,465.41L1536.18,465.55" fill="none" stroke="#fff" stroke-width="0.5" stroke-dasharray="1.2 5.5"/>
<path d="M1402.45,455.91L1402.48,465.61" fill="none" stroke="#111" stroke-width="1.8" />
<path d="M1169.86,455.29L1180.84,457.52M1172.25,451.74L1178.44,461.07M1176.46,450.92L1174.23,461.9M1180.01,453.31L1170.68,459.5" stroke="#555" stroke-width="0.8" fill="none"/><circle cx="1175.35" cy="456.41" r="1.5" fill="#fff" stroke="#555" stroke-width="0.8"/>
<path d="M1216.36,455.33L1227.34,457.56M1218.75,451.78L1224.94,461.11M1222.96,450.96L1220.74,461.93M1226.52,453.35L1217.18,459.54" stroke="#555" stroke-width="0.8" fill="none"/><circle cx="1221.85" cy="456.44" r="1.5" fill="#fff" stroke="#555" stroke-width="0.8"/>
<path d="M1267.16,455.35L1278.14,457.58M1269.55,451.8L1275.74,461.14M1273.76,450.98L1271.54,461.96M1277.32,453.37L1267.98,459.56" stroke="#555" stroke-width="0.8" fill="none"/><circle cx="1272.65" cy="456.47" r="1.5" fill="#fff" stroke="#555" stroke-width="0.8"/>
<path d="M1289.87,458.38L1300.85,460.6M1292.26,454.82L1298.45,464.16M1296.47,454L1294.25,464.98M1300.03,456.39L1290.69,462.58" stroke="#555" stroke-width="0.8" fill="none"/><circle cx="1295.36" cy="459.49" r="1.5" fill="#fff" stroke="#555" stroke-width="0.8"/>
<path d="M1289.84,507.58L1300.82,509.8M1292.24,504.02L1298.42,513.36M1296.44,503.2L1294.22,514.18M1300,505.59L1290.66,511.78" stroke="#555" stroke-width="0.8" fill="none"/><circle cx="1295.33" cy="508.69" r="1.5" fill="#fff" stroke="#555" stroke-width="0.8"/>
<path d="M1290.02,558.78L1301,561M1292.42,555.22L1298.6,564.56M1296.62,554.4L1294.4,565.38M1300.18,556.79L1290.84,562.98" stroke="#555" stroke-width="0.8" fill="none"/><circle cx="1295.51" cy="559.89" r="1.5" fill="#fff" stroke="#555" stroke-width="0.8"/>
<path d="M1397.5,467.5L1408.48,469.73M1399.9,463.95L1406.09,473.28M1404.1,463.12L1401.88,474.1M1407.66,465.52L1398.32,471.71" stroke="#555" stroke-width="0.8" fill="none"/><circle cx="1402.99" cy="468.61" r="1.5" fill="#fff" stroke="#555" stroke-width="0.8"/>
<path d="M1397.5,525.1L1408.48,527.33M1399.9,521.55L1406.09,530.88M1404.1,520.72L1401.88,531.7M1407.66,523.12L1398.32,529.31" stroke="#555" stroke-width="0.8" fill="none"/><circle cx="1402.99" cy="526.21" r="1.5" fill="#fff" stroke="#555" stroke-width="0.8"/>
<path d="M1397.7,582.5L1408.68,584.73M1400.1,578.95L1406.29,588.28M1404.31,578.12L1402.08,589.1M1407.86,580.52L1398.53,586.71" stroke="#555" stroke-width="0.8" fill="none"/><circle cx="1403.19" cy="583.61" r="1.5" fill="#fff" stroke="#555" stroke-width="0.8"/>
<path d="M1467.2,465.46L1478.17,467.68M1469.59,461.9L1475.78,471.24M1473.8,461.08L1471.57,472.06M1477.35,463.48L1468.02,469.66" stroke="#555" stroke-width="0.8" fill="none"/><circle cx="1472.68" cy="466.57" r="1.5" fill="#fff" stroke="#555" stroke-width="0.8"/>
<path d="M1295.15,456.29L1323.85,456.19" fill="none" stroke="#111" stroke-width="1.6" />
<path d="M1304.95,457.45L1304.98,464.45" fill="none" stroke="#555" stroke-width="1.6" />
<path d="M1305,471.95L1315.2,471.92" fill="none" stroke="#555" stroke-width="1.4" />
<path d="M1332.55,456.16L1402.45,456.11" fill="none" stroke="#111" stroke-width="1.6" />
<path d="M1332.55,456.16L1332.57,462.46L1320.97,462.5L1320.98,465.5L1315.18,465.52L1315.2,471.72" fill="none" stroke="#111" stroke-width="1.2" />
<path d="M1384.56,460.28L1394.96,460.24L1395.04,482.24L1402.54,482.21" fill="none" stroke="#111" stroke-width="1.3" />
<path d="M1356.65,456.77L1356.68,465.77L1370.68,465.73L1370.65,456.73" fill="none" stroke="#666" stroke-width="0.8" />
<rect x="1352.57" y="462.08" width="2.8" height="2.6" fill="#fff" stroke="#111" stroke-width="0.9"/>
<rect x="1371.77" y="462.02" width="2.8" height="2.6" fill="#fff" stroke="#111" stroke-width="0.9"/>
<path d="M1354.18,466.78L1394.18,466.64L1394.32,504.64L1372.32,504.72Q1353.31,501.79 1352.76,487.79Z" fill="url(#hc)" stroke="#999" stroke-width="0.8"/>
<path d="M1395.88,523.64L1372.38,523.72Q1348.4,528.8 1345.55,570.81L1343.64,596.82L1396.14,596.64Z" fill="url(#hc)" stroke="#999" stroke-width="0.8"/>
<path d="M1386.95,543.67L1395.75,543.64L1395.91,588.64L1387.11,588.67Z" fill="#fff" stroke="#aaa" stroke-width="0.8"/>
<path d="M1386.97,547.67L1395.77,547.64M1386.98,551.77L1395.78,551.74M1387,555.87L1395.8,555.84M1387.01,559.97L1395.81,559.94M1387.02,564.07L1395.82,564.04M1387.04,568.17L1395.84,568.14M1387.05,572.27L1395.85,572.24M1387.07,576.37L1395.87,576.34M1387.08,580.47L1395.88,580.44M1387.1,584.57L1395.9,584.54" stroke="#aaa" stroke-width="0.8" fill="none"/>
<path d="M1384.95,542.68L1385.11,588.68" fill="none" stroke="#999" stroke-width="1.6" />
<path d="M1302.21,473.96L1312.18,465.93L1322.23,480.39L1395.23,480.14L1395.24,483.64L1306.24,483.95Z" fill="url(#hc)" stroke="#aaa" stroke-width="0.8"/>
<path d="M1299.83,507.97L1303.53,507.96L1303.84,596.96L1300.14,596.97Z" fill="url(#hf)" stroke="#999" stroke-width="0.8"/>
<path d="M1303.9,528.46L1315,528.42L1315.03,537.92L1303.93,537.96Z" fill="url(#hf)" stroke="#999" stroke-width="0.8"/>
<path d="M1336.15,456.85L1326.64,596.88" fill="none" stroke="#999" stroke-width="0.8" />
<path d="M1340.65,456.83L1337.38,522.84L1330.64,596.87" fill="none" stroke="#999" stroke-width="0.8" />
<path d="M1311.24,481.93L1327.37,519.88" fill="none" stroke="#999" stroke-width="0.8" />
<path d="M1321.24,481.9L1338.88,522.84" fill="none" stroke="#999" stroke-width="0.8" />
<path d="M1334.27,490.85L1348.38,522.8L1347,555.81L1344.64,596.82" fill="none" stroke="#999" stroke-width="0.8" />
<path d="M1296.23,478.59L1304.43,478.56L1304.84,596.96" fill="none" stroke="#999" stroke-width="0.9" />
<path d="M1296.24,483.49L1396.24,483.14" fill="none" stroke="#aaa" stroke-width="0.9" />
<path d="M1395.85,484.64L1396.24,596.64" fill="none" stroke="#bbb" stroke-width="0.9" />
<path d="M1296.37,518.99L1323.37,518.89" fill="none" stroke="#999" stroke-width="0.9" />
<path d="M1296.4,527.79L1323.4,527.69" fill="none" stroke="#999" stroke-width="0.9" />
<path d="M1304.03,538.46L1324.03,538.39L1324.24,596.89" fill="none" stroke="#999" stroke-width="0.9" />
<path d="M1304.97,548.96L1324.07,548.89" fill="none" stroke="#999" stroke-width="0.9" />
<path d="M1307.45,542.95L1307.46,546.95" fill="none" stroke="#777" stroke-width="1.4" />
<path d="M1305,558.56L1324.1,558.49" fill="none" stroke="#999" stroke-width="0.9" />
<path d="M1307.48,552.55L1307.5,556.55" fill="none" stroke="#777" stroke-width="1.4" />
<path d="M1305.04,568.16L1324.14,568.09" fill="none" stroke="#999" stroke-width="0.9" />
<path d="M1307.52,562.15L1307.53,566.15" fill="none" stroke="#777" stroke-width="1.4" />
<path d="M1305.07,577.76L1324.17,577.69" fill="none" stroke="#999" stroke-width="0.9" />
<path d="M1307.55,571.75L1307.56,575.75" fill="none" stroke="#777" stroke-width="1.4" />
<path d="M1305.11,587.36L1324.21,587.29" fill="none" stroke="#999" stroke-width="0.9" />
<path d="M1307.58,581.35L1307.6,585.35" fill="none" stroke="#777" stroke-width="1.4" />
<path d="M1305.14,596.95L1324.24,596.89" fill="none" stroke="#999" stroke-width="0.9" />
<path d="M1307.62,590.95L1307.63,594.95" fill="none" stroke="#777" stroke-width="1.4" />
<rect x="1296.65" y="485.18" width="6.4" height="20" fill="#fff" stroke="#333" stroke-width="0.9"/><rect x="1296.65" y="492.68" width="6.4" height="6.5" fill="#222"/>
<path d="M1329.47,406.67L1423.38,494.14L1427.68,494.13" fill="none" stroke="#111" stroke-width="1.1" />
</g></g>
<rect x="29.6" y="26" width="1512.2" height="957" fill="none" stroke="#222" stroke-width="1.7"/>
<text x="24.1" y="986" font-size="10.7" textLength="141" lengthAdjust="spacingAndGlyphs" transform="rotate(-90 24.1 986)" fill="#222" >S:<tspan dx="1.6">\</tspan><tspan dx="1.6">P</tspan>ROJECTS<tspan dx="1.6">\</tspan><tspan dx="1.6">1</tspan>853.000–</text>
<text x="24.1" y="835" font-size="10.7" textLength="13" lengthAdjust="spacingAndGlyphs" transform="rotate(-90 24.1 835)" fill="#222" >NG</text>
<text x="24.1" y="815" font-size="10.7" textLength="9.5" lengthAdjust="spacingAndGlyphs" transform="rotate(-90 24.1 815)" fill="#222" >El</text>
<text x="24.1" y="797" font-size="10.7" textLength="100.5" lengthAdjust="spacingAndGlyphs" transform="rotate(-90 24.1 797)" fill="#222" >Segundo<tspan dx="1.6">\</tspan><tspan dx="1.6">1</tspan>559.20</text>
<text x="24.1" y="689" font-size="10.7" textLength="38" lengthAdjust="spacingAndGlyphs" transform="rotate(-90 24.1 689)" fill="#222" >Revised</text>
<text x="24.1" y="641" font-size="10.7" textLength="12.5" lengthAdjust="spacingAndGlyphs" transform="rotate(-90 24.1 641)" fill="#222" >St</text>
<text x="24.1" y="621" font-size="10.7" textLength="40.4" lengthAdjust="spacingAndGlyphs" transform="rotate(-90 24.1 621)" fill="#222" >Vac–Add</text>
<text x="24.1" y="570.5" font-size="10.7" textLength="32.7" lengthAdjust="spacingAndGlyphs" transform="rotate(-90 24.1 570.5)" fill="#222" >Exhibit</text>
<text x="24.1" y="523.7" font-size="10.7" textLength="237.7" lengthAdjust="spacingAndGlyphs" transform="rotate(-90 24.1 523.7)" fill="#222" >Maps<tspan dx="1.6">\</tspan><tspan dx="1.6">S</tspan>URVEY<tspan dx="1.6">\</tspan><tspan dx="1.6">E</tspan>XHIB<tspan dx="1.6">\</tspan><tspan dx="1.6">S</tspan>HEETS<tspan dx="1.6">\</tspan><tspan dx="1.6">E</tspan>xhibiT–MTA</text>
<text x="24.1" y="279.8" font-size="10.7" textLength="8.9" lengthAdjust="spacingAndGlyphs" transform="rotate(-90 24.1 279.8)" fill="#222" >&amp;</text>
<text x="24.1" y="262" font-size="10.7" textLength="13.5" lengthAdjust="spacingAndGlyphs" transform="rotate(-90 24.1 262)" fill="#222" >LA</text>
<text x="24.1" y="238.1" font-size="10.7" textLength="25.3" lengthAdjust="spacingAndGlyphs" transform="rotate(-90 24.1 238.1)" fill="#222" >Times</text>
<text x="24.1" y="202.3" font-size="10.7" textLength="59.5" lengthAdjust="spacingAndGlyphs" transform="rotate(-90 24.1 202.3)" fill="#222" >Esmts.dwg</text>
<text x="24.1" y="151.7" font-size="10.7" textLength="53.6" lengthAdjust="spacingAndGlyphs" transform="rotate(-90 24.1 151.7)" fill="#222" >8/09/2022</text>
<text x="24.1" y="92.1" font-size="10.7" textLength="19.3" lengthAdjust="spacingAndGlyphs" transform="rotate(-90 24.1 92.1)" fill="#222" >5:35</text>
<text x="24.1" y="63.8" font-size="10.7" textLength="14.9" lengthAdjust="spacingAndGlyphs" transform="rotate(-90 24.1 63.8)" fill="#222" >PM</text>
<path d="M125,67.5L173.6,62L172.2,67.5L173.6,73Z" fill="#000"/>
<path d="M213.5,67.5L268,62L266.6,67.5L268,73Z" fill="#000"/>
<rect x="171.3" y="67" width="2.6" height="4.2" fill="#888"/><rect x="265.6" y="63" width="2.6" height="3.6" fill="#888"/>
<path d="M173,67.5H193M202,67.5H216M268,67.5H272" stroke="#000" stroke-width="1" fill="none"/>
<circle cx="273.6" cy="67.5" r="2.4" fill="#000"/>
<path d="M191.6,60.8L193.3,63.2H201.2L193.3,71.5H201.6L203.6,73.8" fill="none" stroke="#000" stroke-width="2.4" stroke-linejoin="miter"/>
<circle cx="191.8" cy="60.9" r="1.2" fill="#000"/><circle cx="203.8" cy="74" r="1.2" fill="#000"/>
<rect x="156.4" y="106.4" width="93.0" height="23.6" fill="#fff" stroke="#000" stroke-width="1.2"/>
<rect x="156.4" y="106.4" width="18.9" height="11.9" fill="#000"/>
<line x1="157.20000000000002" y1="117.5" x2="174.5" y2="107.9" stroke="#777" stroke-width="0.35"/>
<rect x="175.3" y="118.3" width="18.2" height="11.7" fill="#000"/>
<line x1="176.10000000000002" y1="129.2" x2="192.7" y2="119.8" stroke="#777" stroke-width="0.35"/>
<rect x="193.5" y="106.4" width="18.8" height="11.9" fill="#000"/>
<line x1="194.3" y1="117.5" x2="211.5" y2="107.9" stroke="#777" stroke-width="0.35"/>
<rect x="212.3" y="118.3" width="18.0" height="11.7" fill="#000"/>
<line x1="213.10000000000002" y1="129.2" x2="229.5" y2="119.8" stroke="#777" stroke-width="0.35"/>
<rect x="230.3" y="106.4" width="19.1" height="11.9" fill="#000"/>
<line x1="231.10000000000002" y1="117.5" x2="248.6" y2="107.9" stroke="#777" stroke-width="0.35"/>
<path d="M156.4,106.4V102.4M249.4,106.4V102.4M156.4,118.3H249.4" stroke="#000" stroke-width="1.1" fill="none"/>
<line x1="175.3" y1="106.4" x2="175.3" y2="130" stroke="#000" stroke-width="0.9"/>
<line x1="193.5" y1="106.4" x2="193.5" y2="130" stroke="#000" stroke-width="0.9"/>
<line x1="212.3" y1="106.4" x2="212.3" y2="130" stroke="#000" stroke-width="0.9"/>
<line x1="230.3" y1="106.4" x2="230.3" y2="130" stroke="#000" stroke-width="0.9"/>
<text x="157.7" y="100.7" font-size="11.2" text-anchor="middle" >0</text>
<text x="248.7" y="100.7" font-size="11.2" text-anchor="middle" >100'</text>
<text x="161.8" y="143.9" font-size="11.5" >SCALE:1"=100'</text>
<rect x="69" y="656.7" width="247.5" height="40.2" fill="#fff" stroke="#000" stroke-width="7.2"/>
<path d="M65.6,653.3l7,7M320,653.3l-7,7M65.6,700.3l7,-7M320,700.3l-7,-7" stroke="#555" stroke-width="0.4"/>
<rect x="437.2" y="656.6" width="247.9" height="40.6" fill="#ffff66" stroke="#111" stroke-width="1.2"/>
<clipPath id="lb"><path d="M843.8,656.6H1065.7V697.1H888.5Z"/></clipPath>
<path clip-path="url(#lb)" d="M851.6,656.6l-41.5,41.5M870.76,656.6l-41.5,41.5M889.92,656.6l-41.5,41.5M909.08,656.6l-41.5,41.5M928.24,656.6l-41.5,41.5M947.4,656.6l-41.5,41.5M966.56,656.6l-41.5,41.5M985.72,656.6l-41.5,41.5M1004.88,656.6l-41.5,41.5M1024.04,656.6l-41.5,41.5M1043.2,656.6l-41.5,41.5M1062.36,656.6l-41.5,41.5M1081.52,656.6l-41.5,41.5M1100.68,656.6l-41.5,41.5" stroke="#1c86ee" stroke-width="1.1" fill="none"/>
<path d="M843.8,656.6H1065.7V697.1H888.5Z" fill="none" stroke="#111" stroke-width="1.3"/>
<clipPath id="lr"><rect x="1224.3" y="656.6" width="247.6" height="40.4"/></clipPath>
<path clip-path="url(#lr)" d="M1179.5,656.6l47.6,40.4M1201,656.6l47.6,40.4M1222.5,656.6l47.6,40.4M1244,656.6l47.6,40.4M1265.5,656.6l47.6,40.4M1287,656.6l47.6,40.4M1308.5,656.6l47.6,40.4M1330,656.6l47.6,40.4M1351.5,656.6l47.6,40.4M1373,656.6l47.6,40.4M1394.5,656.6l47.6,40.4M1416,656.6l47.6,40.4M1437.5,656.6l47.6,40.4M1459,656.6l47.6,40.4M1480.5,656.6l47.6,40.4" stroke="#ff0000" stroke-width="1.1" fill="none"/>
<rect x="1224.3" y="656.6" width="247.6" height="40.4" fill="none" stroke="#111" stroke-width="1.3"/>
<text x="186.8" y="727.1" font-size="14.18" text-anchor="middle" >BOUNDARY OF PORTION OF</text>
<text x="186.8" y="744.13" font-size="14.18" text-anchor="middle" >HORNET WAY PROPOSED FOR</text>
<text x="186.8" y="761.16" font-size="14.18" text-anchor="middle" >STREET VACATION</text>
<text x="361" y="727.25" font-size="14.18" xml:space="preserve">BOUNDARY OF "ACCESS AND UTILITIES EASEMENT AREA"</text>
<text x="361" y="744.28" font-size="14.18" xml:space="preserve">(PART OF "EASEMENT AGREEMENT")</text>
<text x="361" y="761.31" font-size="14.18" xml:space="preserve">RECORDED: 4/08/22, INSTR. NO. 20220391788</text>
<text x="361" y="778.34" font-size="14.18" xml:space="preserve">GRANTOR: HC HORNET WAY, LLC</text>
<text x="361" y="795.37" font-size="14.18" xml:space="preserve">GRANTEE: LACMTA</text>
<text x="361" y="812.4" font-size="14.18" xml:space="preserve">PURPOSE: ACCESS, INGRESS AND EGRESS AND UTILITIES</text>
<text x="813" y="727.25" font-size="14.18" xml:space="preserve">BOUNDARY OF "AERIAL EASEMENT AREA"  AND</text>
<text x="813" y="744.28" font-size="14.18" xml:space="preserve">"AERIAL GUIDEWAY EASEMENT AREA"</text>
<text x="813" y="761.31" font-size="14.18" xml:space="preserve">(PART OF "EASEMENT AGREEMENT")</text>
<text x="813" y="778.34" font-size="14.18" xml:space="preserve">RECORDED: 4/08/22, INSTR. NO. 20220391788</text>
<text x="813" y="795.37" font-size="14.18" xml:space="preserve">GRANTOR: HC HORNET WAY, LLC</text>
<text x="813" y="812.4" font-size="14.18" xml:space="preserve">GRANTEE: LACMTA</text>
<text x="813" y="829.43" font-size="14.18" xml:space="preserve">PURPOSE: RAIL GUIDEWAYS</text>
<text x="1183.8" y="727.25" font-size="14.18" xml:space="preserve">BOUNDARY OF "ACCESS EASEMENT AGREEMENT"</text>
<text x="1183.8" y="744.28" font-size="14.18" xml:space="preserve">RECORDED: 5/12/21, INSTR. NO. 20210759951</text>
<text x="1183.8" y="761.31" font-size="14.18" xml:space="preserve">GRANTOR: HC HORNET WAY, LLC</text>
<text x="1183.8" y="778.34" font-size="14.18" xml:space="preserve">GRANTEE: 2310 IMPERIAL, LLC</text>
<text x="1183.8" y="795.37" font-size="14.18" xml:space="preserve">PURPOSE: ACCESS AND INGRESS AND EGRESS</text>
<path d="M939,983V868.6H1541.8M1216.4,868.6V983M1216.4,949.7H1541.8M1216.4,967H1541.8M1380.1,949.7V983" fill="none" stroke="#222" stroke-width="1.5"/>
<text x="948.2" y="888.4" font-size="10.33" >PREPARED BY:</text>
<text x="1139" y="888.4" font-size="11.2" text-anchor="middle" textLength="146.2" lengthAdjust="spacingAndGlyphs" >17625 Crenshaw Blvd., Ste. 300</text>
<text x="1139.3" y="900.8" font-size="11.2" text-anchor="middle" textLength="120" lengthAdjust="spacingAndGlyphs" >Torrance, California 90504</text>
<text x="1139.3" y="913.2" font-size="11.2" text-anchor="middle" textLength="117" lengthAdjust="spacingAndGlyphs" >Tel: (310) 327-0018 / Fax:</text>
<text x="1139" y="925.4" font-size="11.2" text-anchor="middle" textLength="66.6" lengthAdjust="spacingAndGlyphs" >(310)327-0175</text>
<text x="1139.3" y="949.8" font-size="11.2" text-anchor="middle" textLength="98" lengthAdjust="spacingAndGlyphs" >www.dcacivileng.com</text>
<text x="948.3" y="951.1" font-size="71.4" textLength="44.2" lengthAdjust="spacingAndGlyphs" font-weight="bold" >DCA</text>
<text x="996.8" y="919.1" font-size="14.2" textLength="31.3" lengthAdjust="spacingAndGlyphs" >CIVIL</text>
<text x="996.8" y="934.5" font-size="14.2" textLength="89.6" lengthAdjust="spacingAndGlyphs" >ENGINEERING</text>
<text x="996.8" y="949.4" font-size="14.2" textLength="46.8" lengthAdjust="spacingAndGlyphs" >GROUP</text>
<text x="949.2" y="965.6" font-size="8.8" textLength="243.8" lengthAdjust="spacingAndGlyphs" >© 2022 DCA CIVIL ENGINEERING GROUP ALL RIGHTS RESERVED</text>
<text x="962.6" y="978.2" font-size="4.7" textLength="232.3" lengthAdjust="spacing" xml:space="preserve">• CIVIL ENGINEERING   • LAND PLANNING   • SURVEYING &amp; MAPPING   • A.L.T.A. SPECIALISTS</text>
<text x="1383" y="885.8" font-size="16.2" text-anchor="middle" textLength="122.2" lengthAdjust="spacingAndGlyphs" font-weight="bold" stroke="#111" stroke-width="0.55">EXHIBIT MAP</text>
<text x="1378.6" y="910.8" font-size="12.6" text-anchor="middle" textLength="292.9" lengthAdjust="spacingAndGlyphs" font-weight="bold" stroke="#111" stroke-width="0.4">SHOWING EXISTING EASEMENTS WITHIN</text>
<text x="1378.6" y="926.2" font-size="12.6" text-anchor="middle" textLength="222.6" lengthAdjust="spacingAndGlyphs" font-weight="bold" stroke="#111" stroke-width="0.4">THE PORTION OF HORNET WAY</text>
<text x="1378.6" y="941.7" font-size="12.6" text-anchor="middle" textLength="197.5" lengthAdjust="spacingAndGlyphs" font-weight="bold" stroke="#111" stroke-width="0.4">PROPOSED TO BE VACATED</text>
<text x="1230.1" y="963" font-size="11.19" font-style="italic" >SCALE:</text>
<text x="1297.3" y="962.4" font-size="12.67" >AS SHOWN</text>
<text x="1389.1" y="963" font-size="11.53" font-style="italic" >DATE:</text>
<text x="1460.3" y="962.4" font-size="12.61" >08/09/2022</text>
<text x="1234.1" y="978.8" font-size="11.43" font-style="italic" >BY:</text>
<text x="1339.3" y="978.8" font-size="12.33" >KMR</text>
<text x="1389.7" y="978" font-size="10.23" >J.N. 22-2261-1853.000-1559.20</text>
<rect x="1226.4" y="907.6" width="1" height="1" fill="#888"/><rect x="1226.4" y="944.6" width="1" height="1" fill="#888"/>
</g>
</svg>
</body></html>
